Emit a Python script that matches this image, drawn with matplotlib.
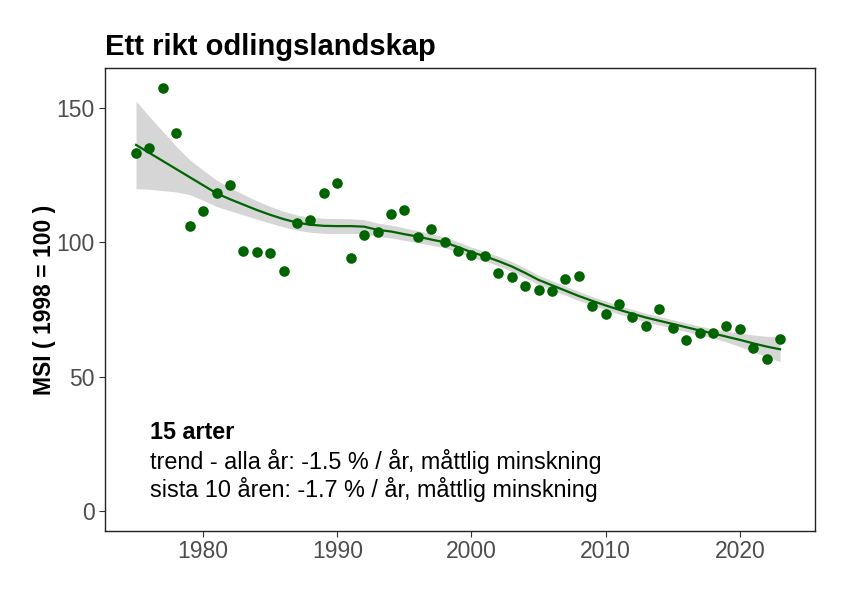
import numpy as np
import matplotlib.pyplot as plt

plt.rcParams['font.family'] = ['Liberation Sans', 'DejaVu Sans']

years = np.arange(1975, 2024)
msi = [133.3, 135.0, 157.3, 140.6, 106.0, 111.6, 118.2, 121.3, 96.9, 96.3,
       96.0, 89.4, 107.2, 108.4, 118.3, 122.1, 94.3, 102.8, 103.7, 110.4,
       112.1, 102.1, 105.1, 100.0, 96.9, 95.3, 94.7, 88.6, 87.1, 83.7,
       82.1, 82.0, 86.2, 87.3, 76.2, 73.3, 76.9, 72.1, 68.9, 75.2,
       68.0, 63.6, 66.1, 66.4, 68.9, 67.6, 60.7, 56.5, 64.0]

# smoothed trend and its confidence half-width, read per year
smooth = [136.2, 133.2, 130.2, 127.2, 124.2, 121.2, 118.2, 116.0, 114.0, 112.0,
          110.2, 108.6, 107.3, 106.5, 106.1, 106.0, 106.0, 105.8, 104.6, 104.0,
          103.0, 102.1, 101.0, 100.0, 98.2, 96.3, 94.8, 93.0, 91.0, 88.6,
          86.0, 84.0, 82.0, 80.0, 78.2, 76.5, 74.9, 73.4, 72.0, 70.8,
          69.6, 68.4, 67.2, 66.1, 64.9, 63.7, 62.4, 61.2, 60.2]
half_width = [16.3, 13.5, 11.0, 8.5, 6.5, 5.6, 4.9, 4.3, 3.8, 3.4,
              3.1, 2.9, 2.8, 2.8, 2.8, 2.8, 2.7, 2.6, 2.5, 2.4,
              2.3, 2.2, 2.1, 2.0, 1.9, 1.9, 1.8, 1.8, 1.8, 1.8,
              1.7, 1.7, 1.7, 1.7, 1.6, 1.6, 1.6, 1.6, 1.6, 1.6,
              1.6, 1.6, 1.6, 1.7, 2.0, 2.5, 3.1, 3.8, 4.6]

title = "Ett rikt odlingslandskap"
ylabel = "MSI ( 1998 = 100 )"
n_species = "15 arter"
trend_lines = ["trend - alla år: -1.5 % / år, måttlig minskning",
               "sista 10 åren: -1.7 % / år, måttlig minskning"]
xticks = [1980, 1990, 2000, 2010, 2020]
yticks = [0, 50, 100, 150]

smooth = np.array(smooth)
half_width = np.array(half_width)

fig, ax = plt.subplots(figsize=(8.48, 5.94), dpi=100)
fig.subplots_adjust(left=0.124, right=0.961, top=0.886, bottom=0.106)

ax.fill_between(years, smooth - half_width, smooth + half_width,
                color='#d6d6d6', lw=0)
ax.plot(years, smooth, color='#006400', lw=1.6)
ax.scatter(years, msi, s=58, color='#006400', zorder=3, lw=0)

ax.set_xlim(1972.7, 2025.6)
ax.set_ylim(-7.4, 164.9)
ax.set_xticks(xticks)
ax.set_yticks(yticks)
ax.tick_params(labelsize=16.5, labelcolor='#4d4d4d', color='#333333', length=4)
ax.tick_params(axis='x', pad=2.5)
for s in ax.spines.values():
    s.set_color('#222222')
    s.set_linewidth(1.0)

ax.set_ylabel(ylabel, fontsize=16.5, fontweight='bold', labelpad=0)
ax.set_title(title, fontsize=21, fontweight='bold', loc='left', pad=9)

ax.text(0.063, 0.213, n_species, transform=ax.transAxes, fontsize=16.8,
        fontweight='bold', va='center')
ax.text(0.063, 0.151, trend_lines[0], transform=ax.transAxes, fontsize=16.8,
        va='center')
ax.text(0.063, 0.090, trend_lines[1], transform=ax.transAxes, fontsize=16.8,
        va='center')

fig.savefig('out.png', dpi=100)
